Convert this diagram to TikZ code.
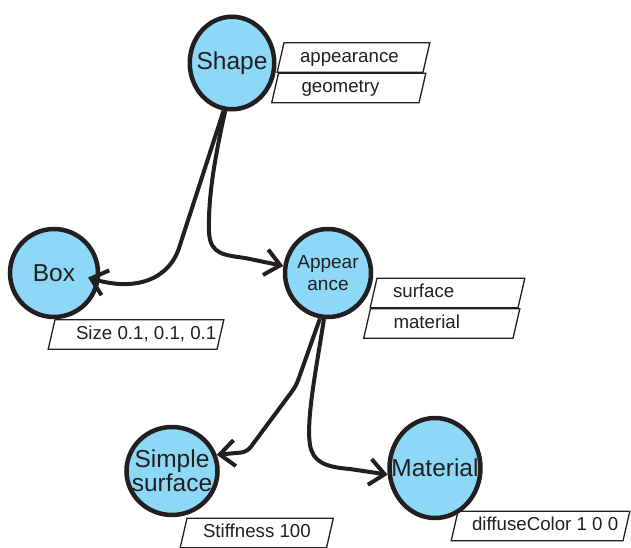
\documentclass[tikz,border=0pt]{standalone}
\usepackage{fontspec}
\setmainfont{Liberation Sans}
\usetikzlibrary{shapes.geometric,arrows.meta}

\definecolor{tinta}{RGB}{35,31,32}
\definecolor{celeste}{RGB}{142,216,247}

% Texto de um campo: largura da caixa e recuo a partir do canto.
\newcommand{\rotulo}[3][16pt]{\makebox[#2][l]{\hspace{#1}#3}}

\tikzset{
  conceito/.style={ellipse, draw=tinta, fill=celeste, line width=4.5pt, text=tinta,
    inner sep=-12pt, align=center, font=\fontsize{24.5}{24}\selectfont},
  campo/.style={trapezium, trapezium left angle=77, trapezium right angle=103,
    draw=tinta, line width=1.3pt, fill=white, text=tinta,
    font=\fontsize{18.7}{20}\selectfont, inner xsep=0pt, inner ysep=6pt,
    text height=13.5pt, text depth=4pt},
  ligacao/.style={draw=tinta, line width=4pt, -{Straight Barb[length=15pt,width=26pt]}}
}

\begin{document}
\begin{tikzpicture}[x=1pt,y=-1pt]
  \useasboundingbox (0,0) rectangle (631,548);

  % Campos de cada no, desenhados por baixo dos circulos.
  \node[campo] (fAppearance) at (353.5,57.5) {\rotulo{139pt}{appearance}};
  \node[campo] (fGeometry) at (348.75,88) {\rotulo[23pt]{140.5pt}{geometry}};
  \node[campo] (fSize) at (136,334.5) {\rotulo[21pt]{162pt}{Size 0.1, 0.1, 0.1}};
  \node[campo] (fSurface) at (447.5,293) {\rotulo{141pt}{surface}};
  \node[campo] (fMaterial) at (441.75,323.5) {\rotulo[23pt]{142.5pt}{material}};
  \node[campo] (fStiffness) at (256.75,533) {\rotulo{139.5pt}{Stiffness 100}};
  \node[campo] (fDiffuse) at (540.5,526) {\rotulo[14pt]{165pt}{diffuseColor 1 0 0}};

  % Nos do grafo de cena.
  \node[conceito, minimum width=84.5pt, minimum height=92.5pt] (shape) at (232,63) {\raisebox{-2pt}{Shape}};
  \node[conceito, minimum size=88pt] (box) at (54,273) {Box};
  \node[conceito, minimum width=86pt, minimum height=88pt,
        font=\fontsize{19}{22}\selectfont] (appearance) at (328,273) {Appear\\ance};
  \node[conceito, minimum width=91pt, minimum height=88pt] (simple) at (172,471)
    {\raisebox{-3pt}{Simple}\\\raisebox{-3pt}{surface}};
  \node[conceito, minimum width=91pt, minimum height=100pt] (material) at (435,468) {Material};

  % Ligacoes a partir de Shape.
  \draw[ligacao, shorten >=-12pt] (shape.-100) -- (180,245)
    .. controls (170,280) and (135,292) .. (box.-10);
  \draw[ligacao] (shape.-98) .. controls (214,160) and (208,200) .. (209,232)
    .. controls (210,255) and (225,255) .. (245,258) -- (appearance.171);

  % Ligacoes a partir de Appearance.
  \draw[ligacao, rounded corners=6pt] (appearance.-100) -- (296,386) -- (247,452) -- (simple.20);
  \draw[ligacao] (appearance.-95) .. controls (316,370) and (306,420) .. (310,445)
    .. controls (313,462) and (325,467) .. (350,469) -- (material.188);
\end{tikzpicture}
\end{document}
